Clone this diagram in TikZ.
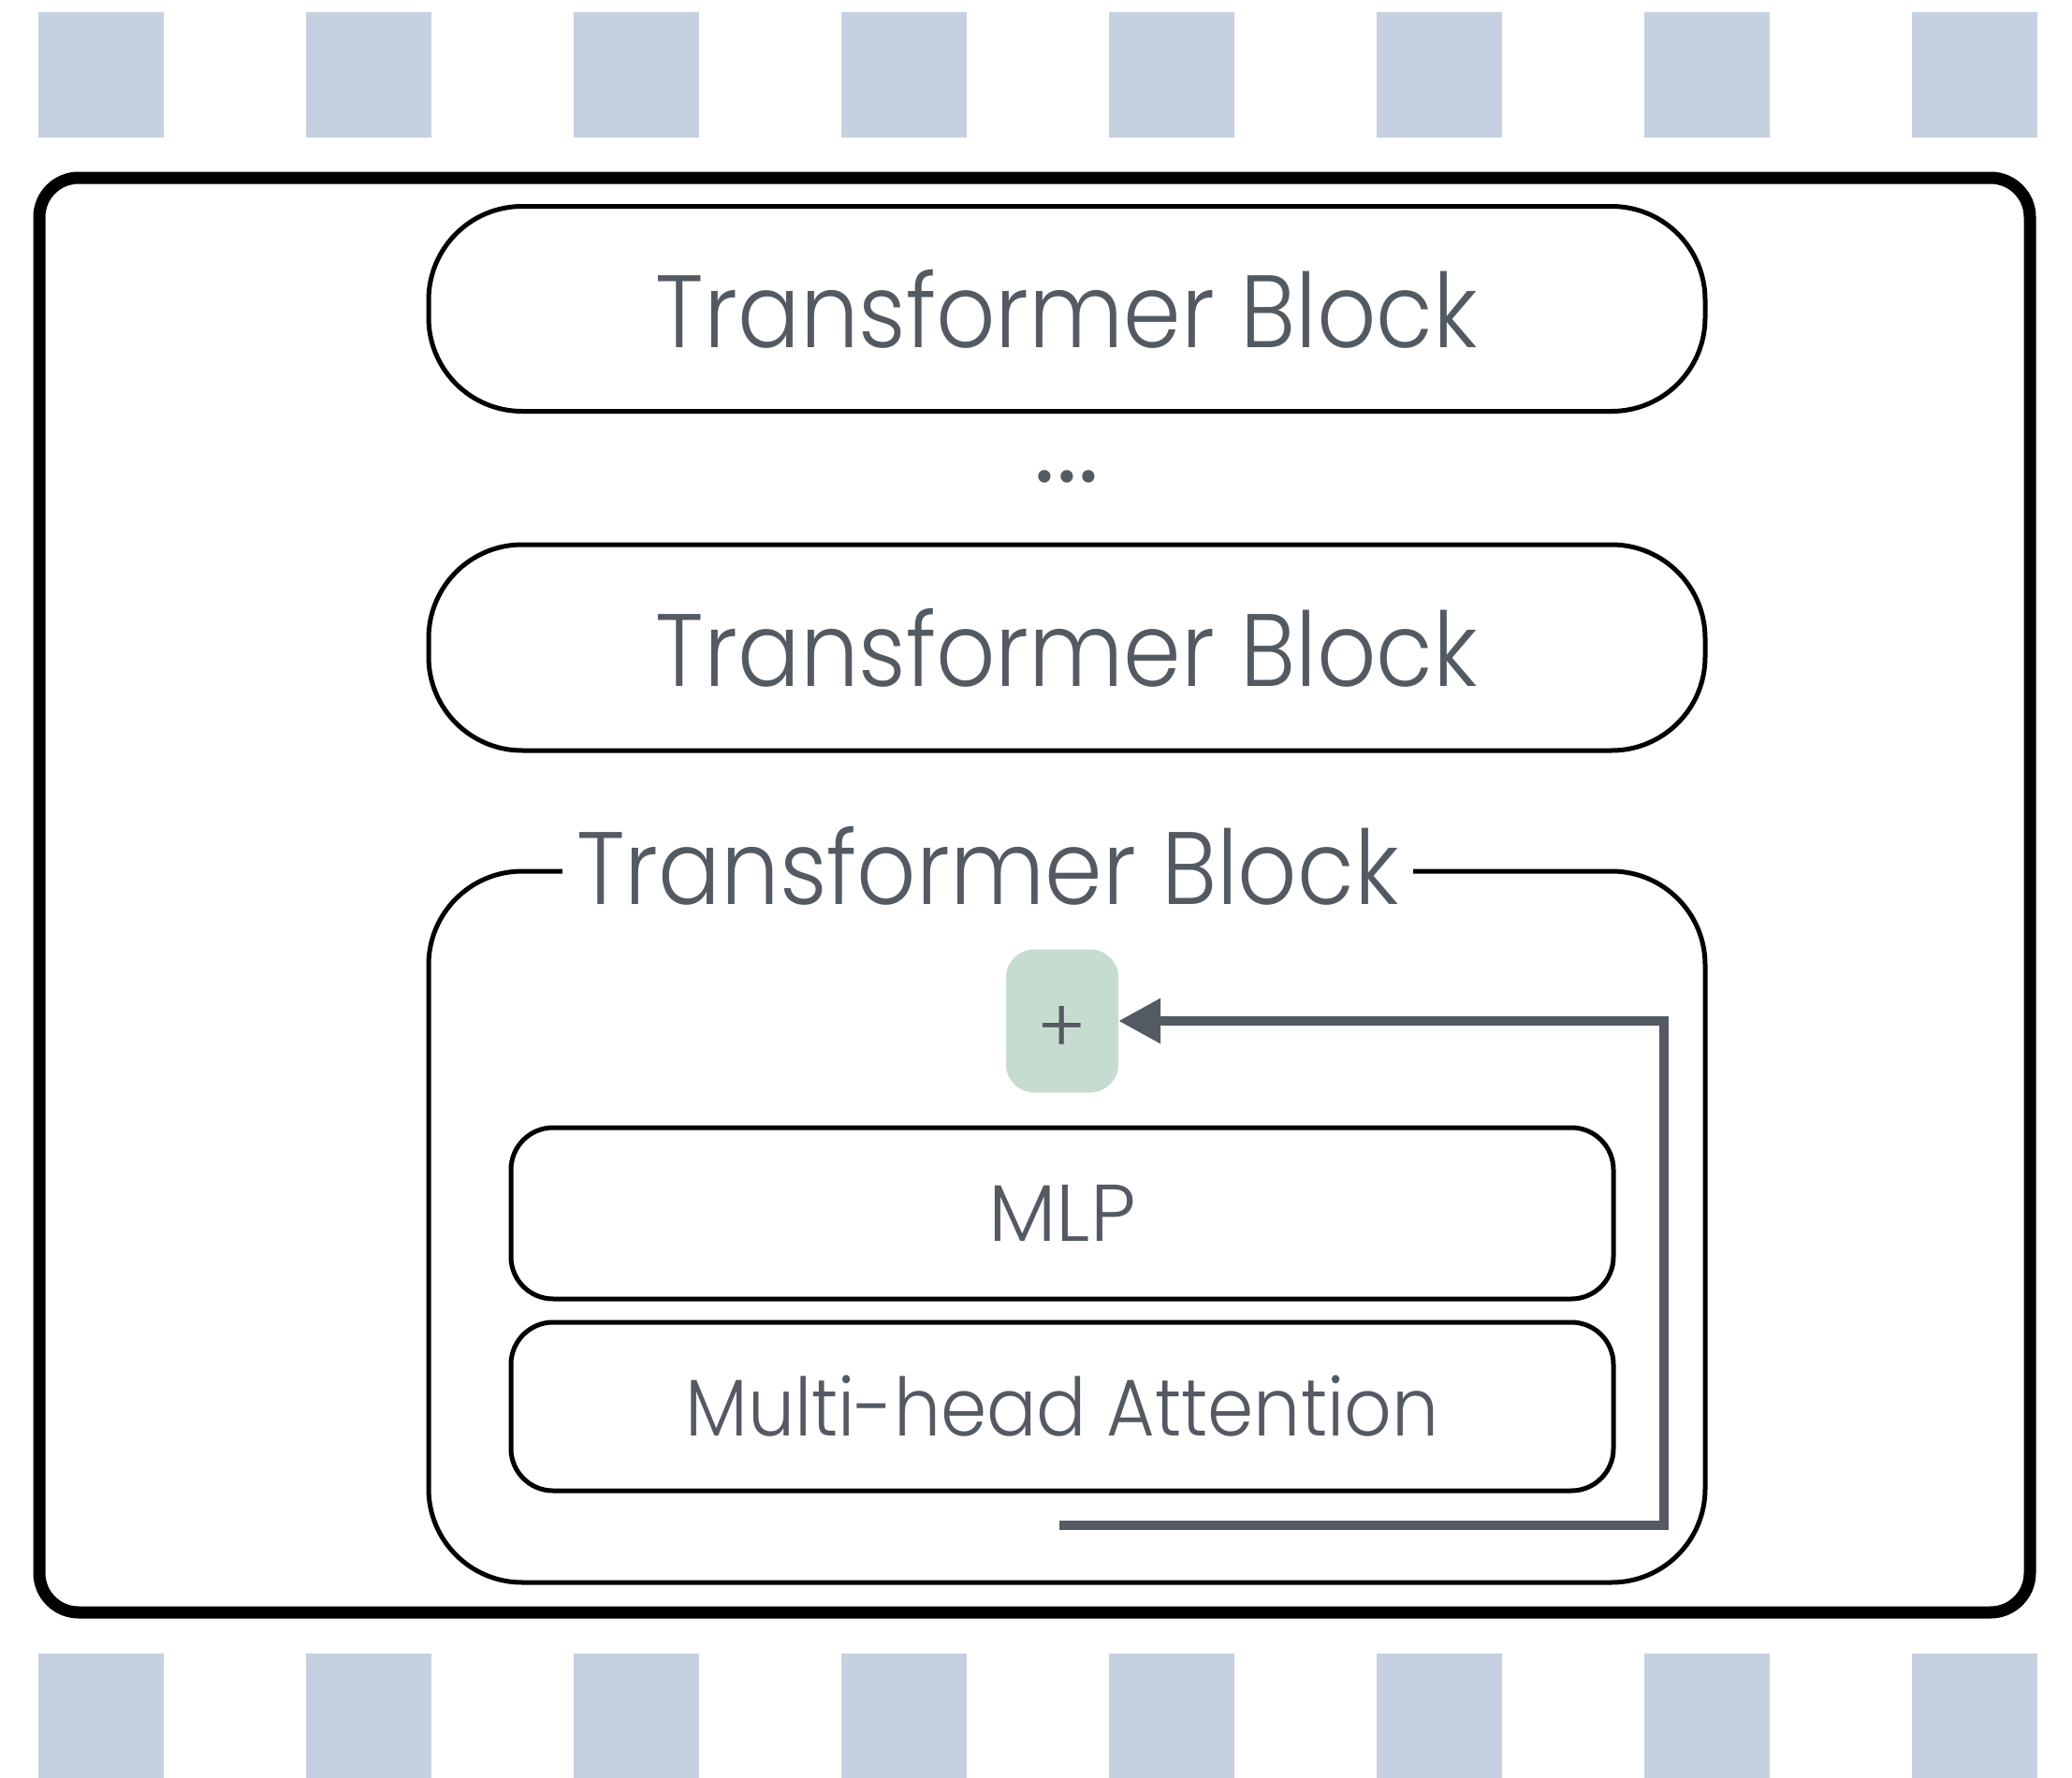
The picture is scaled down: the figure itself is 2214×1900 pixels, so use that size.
\documentclass[tikz,border=0pt]{standalone}
\usepackage{fontspec}
\usetikzlibrary{arrows.meta}
\IfFontExistsTF{Poppins Light}{\def\lblname{Poppins Light}}{\def\lblname{Liberation Sans}}
\newfontfamily\lbl{\lblname}[FakeStretch=0.9]
\newfontfamily\lblmid{\lblname}[FakeStretch=0.92]
\newfontfamily\lblwide{\lblname}
\definecolor{ink}{RGB}{84,90,98}
\definecolor{sq}{RGB}{197,208,224}
\definecolor{plusfill}{RGB}{199,220,208}
\begin{document}
\begin{tikzpicture}[x=1pt,y=-1pt,
  sqbox/.style={fill=sq,draw=none},
  framebox/.style={draw=black,line width=13pt,rounded corners=42pt,minimum width=2127pt,minimum height=1533pt,inner sep=0pt},
  bigfont/.style={font=\lbl\fontsize{110}{130}\selectfont},
  blockbox/.style={draw=black,line width=5pt,rounded corners=100pt,minimum width=1364pt,inner sep=0pt,text=ink,bigfont},
  titlelabel/.style={fill=white,inner xsep=15pt,inner ysep=0pt,text=ink,bigfont},
  layerbox/.style={draw=black,line width=5pt,rounded corners=45pt,minimum width=1178pt,inner sep=0pt,text=ink,font=\lblmid\fontsize{86}{100}\selectfont},
  plusbox/.style={fill=plusfill,rounded corners=30pt,minimum width=120pt,minimum height=153pt,inner sep=0pt,text=ink,font=\lblwide\fontsize{80}{90}\selectfont},
  dotslabel/.style={text=ink,inner sep=0pt,font=\lblwide\fontsize{130}{140}\selectfont},
  resarrow/.style={draw=ink,line width=10pt,-{Triangle[length=45pt,width=46pt]}}
]
\useasboundingbox (0,0) rectangle (2214,1900);
\foreach \i in {0,...,7}{
  \fill[sqbox] ({41+286*\i},13) rectangle ++(134,134);
  \fill[sqbox] ({41+286*\i},1767) rectangle ++(134,133);
}
\node[framebox] (frame) at (1105.5,956.5) {};
\node[blockbox,minimum height=219pt] (b1) at (1140,330) {Transformer Block};
\node[dotslabel] (dots) at (1140,509) {...};
\node[blockbox,minimum height=220pt] (b2) at (1140,692) {Transformer Block};
\node[blockbox,minimum height=760pt] (b3) at (1140,1311) {};
\node[titlelabel] (b3t) at (1055.5,925) {Transformer Block};
\node[plusbox] (plus) at (1135,1091) {\raisebox{-9pt}[\height][\depth]{+}};
\node[layerbox,minimum height=183pt,font=\lblwide\fontsize{86}{100}\selectfont] (mlp) at (1135,1296.5) {MLP};
\node[layerbox,minimum height=180pt] (mha) at (1135,1503) {Multi-head Attention};
\coordinate (resin) at (1132,1630);
\draw[resarrow] (resin) -- ++(646,0) |- (plus.east);
\end{tikzpicture}
\end{document}
